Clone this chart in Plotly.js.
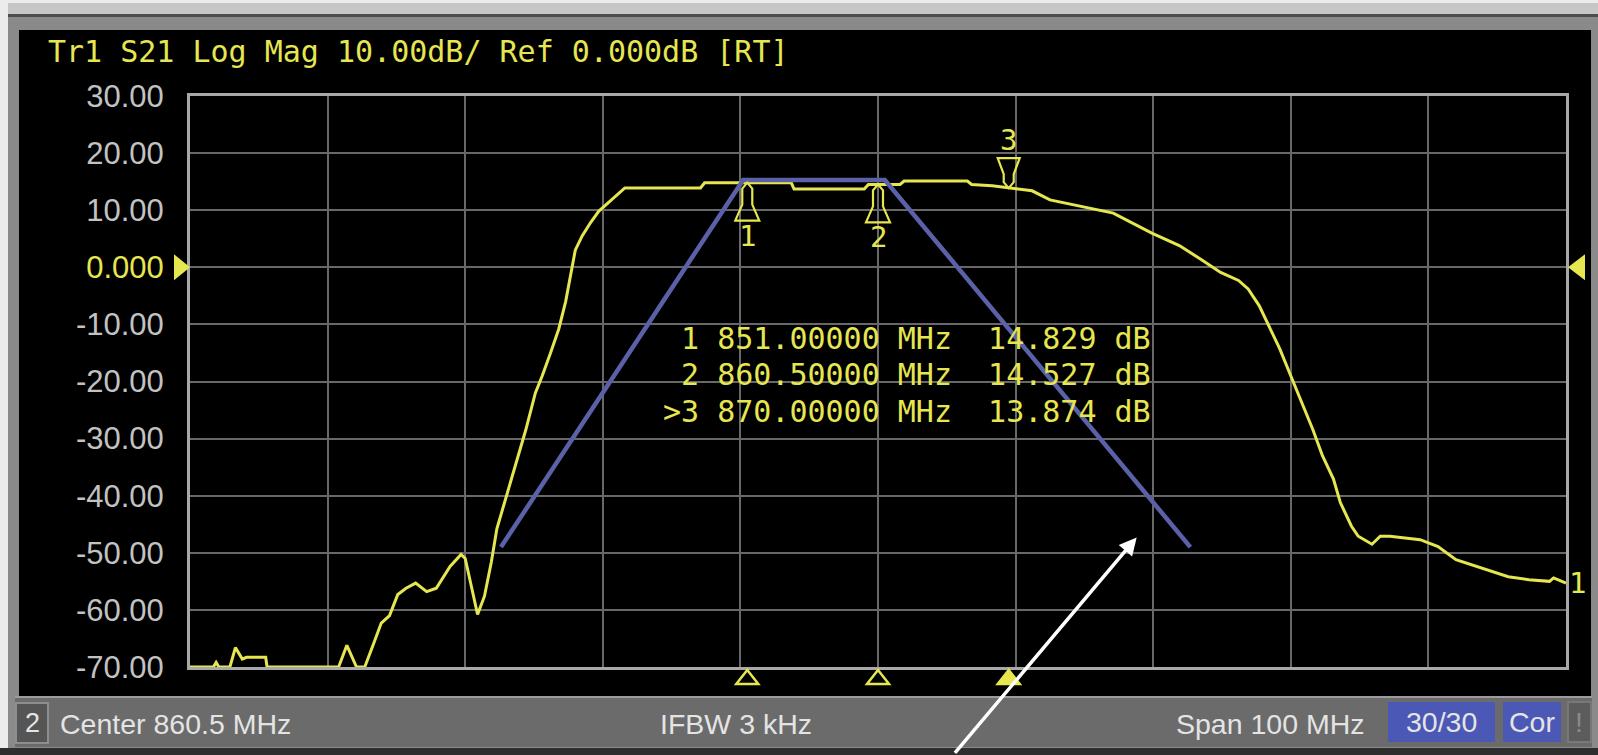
<!DOCTYPE html>
<html><head><meta charset="utf-8">
<script src="https://cdn.plot.ly/plotly-3.0.1.min.js"></script>
<style>html,body{margin:0;padding:0;background:#ececec;overflow:hidden}</style>
</head><body><div id="chart" style="width:1598px;height:755px"></div>
<script>
// ---------------- data ----------------
const freqMHz = [810.5,812.2,812.4,812.6,813.4,813.8,814.3,814.6,816.0,816.1,821.3,821.9,822.6,823.2,823.8,824.4,825.0,825.6,826.2,826.9,827.7,828.4,829.4,830.2,830.5,831.4,831.9,832.4,832.8,833.5,834.3,834.9,835.6,836.1,836.7,837.3,837.8,838.2,838.5,839.0,839.6,840.2,841.0,842.1,847.6,847.9,854.2,854.4,859.5,859.8,862.1,862.4,867.0,867.3,868.8,870.0,871.7,873.0,875.5,877.6,880.4,882.4,883.9,885.4,886.7,887.4,888.2,888.9,889.7,890.6,891.3,892.1,892.8,893.6,894.1,894.9,895.4,896.4,897.0,897.7,899.9,901.2,902.5,904.0,906.3,907.8,909.3,909.6,910.5];
const s21dB = [-70,-70,-69.2,-70,-70,-66.6,-68.6,-68.3,-68.3,-70,-70,-66.2,-70,-70,-66.2,-62.3,-61.0,-57.3,-56.2,-55.3,-56.8,-56.2,-52.4,-50.3,-51.0,-60.8,-57.6,-51.6,-45.8,-40.0,-33.0,-28.5,-22.0,-19.0,-15.0,-10.8,-6.0,-1.0,3.0,5.5,7.8,9.8,11.6,13.9,13.9,14.8,14.8,13.7,13.7,14.5,14.5,15.1,15.1,14.5,14.3,13.9,13.4,11.8,10.6,9.5,6.0,3.8,1.5,-0.9,-2.3,-3.8,-6.7,-10.3,-14.3,-19.6,-23.7,-28.4,-33.0,-37.1,-41.2,-45.3,-47.1,-48.5,-47.1,-47.1,-47.7,-48.9,-51.2,-52.4,-54.2,-54.7,-55.0,-54.4,-55.3];
const maskFreqMHz = [833.1, 850.7, 861.0, 883.2];
const maskdB = [-49, 15.3, 15.3, -49];
const markerIds = ['1', '2', '3'];
const markerFreqMHz = [851.0, 860.5, 870.0];
const markerdB = [14.829, 14.527, 13.874];
const activeMarker = '3';
const yTickVals = [30, 20, 10, 0, -10, -20, -30, -40, -50, -60, -70];
const yTickLabels = ['30.00', '20.00', '10.00', '0.000', '-10.00', '-20.00', '-30.00', '-40.00', '-50.00', '-60.00', '-70.00'];
const refLevel = 0;
const centerMHz = 860.5;
const spanMHz = 100;
const titleText = 'Tr1 S21 Log Mag 10.00dB/ Ref 0.000dB [RT]';
const channelLabel = '2';
const centerLabel = 'Center 860.5 MHz';
const ifbwLabel = 'IFBW 3 kHz';
const spanLabel = 'Span 100 MHz';
const avgLabel = '30/30';
const corLabel = 'Cor';
const traceLabel = '1';
const arrowTip = [879.3, -47.3];

// ---------------- geometry ----------------
const W = 1598, H = 755, L = 190, R = 32, T = 96, B = 88;
const PW = W - L - R, PH = H - T - B;
const px = p => (p - L) / PW;
const py = p => (H - B - p) / PH;
const YEL = '#e6e650';
const MONO = 'DejaVu Sans Mono';
const SANS = 'Liberation Sans';

function rect(x0, y0, x1, y1, fill, line, lw) {
  return {type: 'rect', xref: 'paper', yref: 'paper', layer: 'below',
    x0: px(x0), x1: px(x1), y0: py(y0), y1: py(y1), fillcolor: fill,
    line: {color: line || fill, width: line ? (lw || 2) : 0}};
}
function ptext(text, x, y, xanchor, opts) {
  opts = opts || {};
  return {xref: 'paper', yref: 'paper', x: px(x), y: py(y), xanchor: xanchor, yanchor: 'middle',
    text: text, showarrow: false,
    font: {family: opts.family || SANS, size: opts.size || 28.5, color: opts.color || '#e4e4e4'}};
}

const shapes = [
  rect(8, 3, 1598, 748, '#8a8a8a'),
  rect(8, 3, 1598, 14, '#c6c6c6'),
  rect(8, 14, 1598, 17, '#4c4c4c'),
  rect(19, 30, 1591, 696, '#000000'),
  rect(15, 696, 1592, 698, '#9c9c9c'),
  rect(15, 698, 1592, 747, '#6b6b6b'),
  rect(0, 748, 1598, 755, '#2e2e2e'),
  rect(16, 703, 48, 743, '#555555', '#8e8e8e', 2),
  rect(1388, 702, 1495, 742, '#4b58b6'),
  rect(1503, 702, 1561, 742, '#4b58b6'),
  rect(1568, 702, 1591, 742, '#5c5c5c', '#787878', 2)
];

// reference level triangles
shapes.push({type: 'path', layer: 'above', xref: 'paper', yref: 'y', xsizemode: 'pixel', ysizemode: 'pixel',
  xanchor: 0, yanchor: refLevel, path: 'M0,0 L-16,13 L-16,-13 Z', fillcolor: YEL, line: {width: 0}});
shapes.push({type: 'path', layer: 'above', xref: 'paper', yref: 'y', xsizemode: 'pixel', ysizemode: 'pixel',
  xanchor: 1, yanchor: refLevel, path: 'M2,0 L19,13 L19,-13 Z', fillcolor: YEL, line: {width: 0}});

const annotations = [];
markerIds.forEach((id, i) => {
  const active = id === activeMarker;
  shapes.push({type: 'path', layer: 'above', xref: 'x', yref: 'y', xsizemode: 'pixel', ysizemode: 'pixel',
    xanchor: markerFreqMHz[i], yanchor: markerdB[i],
    path: active ? 'M0,0 L-5,6 L-5,14 L-11,30 L11,30 L5,14 L5,6 Z'
                 : 'M0,0 L-5,-6 L-5,-22 L-12,-38 L12,-38 L5,-22 L5,-6 Z',
    fillcolor: 'rgba(0,0,0,0)', line: {color: YEL, width: 2.2}});
  // bottom indicators
  shapes.push({type: 'path', layer: 'above', xref: 'x', yref: 'paper', xsizemode: 'pixel', ysizemode: 'pixel',
    xanchor: markerFreqMHz[i], yanchor: 0, path: 'M0,-3 L-11,-17 L11,-17 Z',
    fillcolor: active ? YEL : '#000000', line: {color: YEL, width: 2.5}});
  annotations.push({xref: 'x', yref: 'y', x: markerFreqMHz[i], y: markerdB[i], yshift: active ? 48 : -53,
    text: id, showarrow: false, font: {family: MONO, size: 29, color: YEL}});
  const prefix = active ? '>' : '\u00a0';
  const row = prefix + id + '\u00a0' + markerFreqMHz[i].toFixed(5) + '\u00a0MHz\u00a0\u00a0' +
              markerdB[i].toFixed(3) + '\u00a0dB';
  annotations.push({xref: 'paper', yref: 'paper', x: px(661), y: py(338 + 36.5 * i), xanchor: 'left', yanchor: 'middle',
    text: row, showarrow: false, font: {family: MONO, size: 30, color: YEL}});
});

annotations.push({xref: 'paper', yref: 'y', x: 1, y: s21dB[s21dB.length - 1], xanchor: 'left', yanchor: 'middle', xshift: 1,
  text: traceLabel, showarrow: false, font: {family: MONO, size: 29, color: YEL}});

annotations.push(ptext(channelLabel, 32, 723, 'center', {size: 27}));
annotations.push(ptext(centerLabel, 58, 724, 'left'));
annotations.push(ptext(ifbwLabel, 736, 724, 'center'));
annotations.push(ptext(spanLabel, 1367, 724, 'right'));
annotations.push(ptext(avgLabel, 1441, 722, 'center'));
annotations.push(ptext(corLabel, 1532, 722, 'center'));
annotations.push(ptext('!', 1579, 722, 'center', {color: '#8a8a8a'}));

annotations.push({xref: 'x', yref: 'y', x: arrowTip[0], y: arrowTip[1], ax: -183, ay: 217,
  text: '', showarrow: true, arrowhead: 2, arrowsize: 1, arrowwidth: 3.5, arrowcolor: '#ffffff'});

const yTickText = yTickLabels.map((t, i) => yTickVals[i] === refLevel ? '<span style="color:' + YEL + '">' + t + '</span>' : t);

const data = [
  {x: freqMHz, y: s21dB, type: 'scatter', mode: 'lines', line: {color: YEL, width: 3}, hoverinfo: 'skip'},
  {x: maskFreqMHz, y: maskdB, type: 'scatter', mode: 'lines', line: {color: '#5a61a8', width: 4.5}, hoverinfo: 'skip'}
];

const layout = {
  width: W, height: H,
  margin: {l: L, r: R, t: T, b: B, pad: 0},
  paper_bgcolor: '#ececec', plot_bgcolor: '#000000',
  showlegend: false,
  title: {text: titleText, xref: 'container', yref: 'container', x: 48 / W, xanchor: 'left',
    y: 1 - 51 / H, yanchor: 'middle', font: {family: MONO, size: 30, color: YEL}},
  xaxis: {range: [centerMHz - spanMHz / 2, centerMHz + spanMHz / 2], tick0: centerMHz - spanMHz / 2, dtick: spanMHz / 10,
    showticklabels: false, ticks: '', showgrid: true, gridcolor: '#686868', gridwidth: 2,
    showline: true, linecolor: '#a8a8a8', linewidth: 3, mirror: true, zeroline: false, fixedrange: true},
  yaxis: {range: [-70, 30], tickmode: 'array', tickvals: yTickVals, ticktext: yTickText,
    ticks: 'outside', ticklen: 17, tickcolor: 'rgba(0,0,0,0)',
    tickfont: {family: SANS, size: 31, color: '#c2c2c2'},
    showgrid: true, gridcolor: '#686868', gridwidth: 2,
    showline: true, linecolor: '#a8a8a8', linewidth: 3, mirror: true, zeroline: false, fixedrange: true},
  shapes: shapes,
  annotations: annotations
};

Plotly.newPlot('chart', data, layout, {displayModeBar: false, staticPlot: true});
</script>
</body></html>
